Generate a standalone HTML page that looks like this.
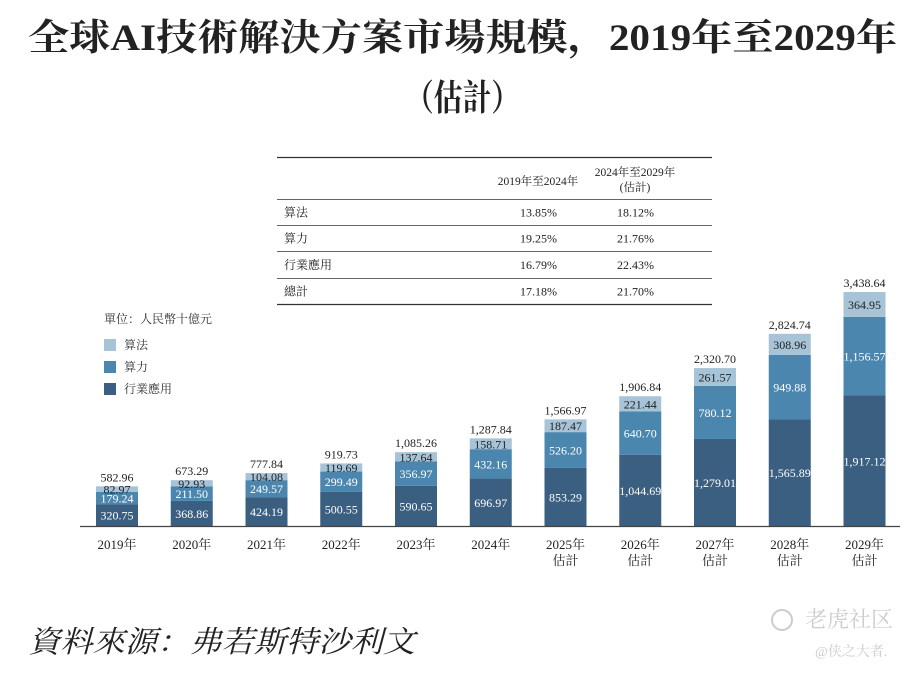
<!DOCTYPE html>
<html><head><meta charset="utf-8">
<style>
body{margin:0;background:#fff;}
svg text{font-family:"Liberation Serif","Noto Serif CJK SC","Noto Sans CJK TC",serif;}
</style></head>
<body>
<svg width="915" height="672" viewBox="0 0 915 672" xmlns="http://www.w3.org/2000/svg">
<text x="28" y="50" textLength="869" lengthAdjust="spacingAndGlyphs" font-size="37" font-weight="bold" fill="#222">全球AI技術解決方案市場規模，2019年至2029年</text>
<text x="405" y="110" textLength="115" lengthAdjust="spacingAndGlyphs" font-size="36" font-weight="bold" fill="#222">（估計）</text>
<g id="table"></g>
<g id="legend">
<text x="104" y="323" font-size="12" fill="#333">單位：人民幣十億元</text>
<rect x="104" y="339" width="12" height="12" fill="#a7c3d8"/>
<text x="124" y="349" font-size="12" fill="#333">算法</text>
<rect x="104" y="361" width="12" height="12" fill="#4b86ae"/>
<text x="124" y="371" font-size="12" fill="#333">算力</text>
<rect x="104" y="383" width="12" height="12" fill="#3a5f80"/>
<text x="124" y="393" font-size="12" fill="#333">行業應用</text>
</g>
<g id="bars"></g>
<line x1="80" y1="526.5" x2="900" y2="526.5" stroke="#444" stroke-width="1.2"/>
<text x="28" y="652" textLength="387" lengthAdjust="spacingAndGlyphs" font-size="30" font-style="italic" fill="#222">資料來源：弗若斯特沙利文</text>
<text x="805" y="627" font-size="22" fill="#ccc" font-family="Liberation Sans,Noto Sans CJK SC,sans-serif">老虎社区</text>
<circle cx="782" cy="620" r="10" fill="none" stroke="#ccc" stroke-width="2"/>
<text x="815" y="656" font-size="14" fill="#ccc">@侠之大者.</text>
</svg>
<script>
const years=["2019年","2020年","2021年","2022年","2023年","2024年","2025年","2026年","2027年","2028年","2029年"];
const estimated=[false,false,false,false,false,false,true,true,true,true,true];
const industry=[320.75,368.86,424.19,500.55,590.65,696.97,853.29,1044.69,1279.01,1565.89,1917.12];
const compute=[179.24,211.50,249.57,299.49,356.97,432.16,526.20,640.70,780.12,949.88,1156.57];
const algorithm=[82.97,92.93,104.08,119.69,137.64,158.71,187.47,221.44,261.57,308.96,364.95];
const totals=[582.96,673.29,777.84,919.73,1085.26,1287.84,1566.97,1906.84,2320.70,2824.74,3438.64];
const tableRows=["算法","算力","行業應用","總計"];
const cagr1=["13.85%","19.25%","16.79%","17.18%"];
const cagr2=["18.12%","21.76%","22.43%","21.70%"];

const NS="http://www.w3.org/2000/svg";
const base=526, scale=234/3438.64, x0=117, step=74.75, bw=42;
const yv=v=>base-v*scale;
const xc=i=>x0+i*step;
function mk(tag,attrs,parent,txt){const e=document.createElementNS(NS,tag);for(const k in attrs)e.setAttribute(k,attrs[k]);if(txt!==undefined)e.textContent=txt;parent.appendChild(e);return e;}
const g=document.getElementById('bars');
const fmt=v=>v.toLocaleString('en-US',{minimumFractionDigits:2,maximumFractionDigits:2});
years.forEach((y,i)=>{
  const segs=[[industry[i],"#3a5f80","#fff","industry"],[compute[i],"#4b86ae","#fff","compute"],[algorithm[i],"#a7c3d8","#222","algorithm"]];
  let acc=0;
  segs.forEach(s=>{
    const top=yv(acc+s[0]),bot=yv(acc);
    const r=mk('rect',{x:xc(i)-bw/2,y:top,width:bw,height:bot-top,fill:s[1]},g);
    
    
    const t=mk('text',{x:xc(i),y:(top+bot)/2+4.5,'text-anchor':'middle','font-size':12,fill:s[2]},g,fmt(s[0]));
    
    
    acc+=s[0];
  });
  const tt=mk('text',{x:xc(i),y:yv(totals[i])-5,'text-anchor':'middle','font-size':12,fill:'#222'},g,fmt(totals[i]));
  
  
  const yl=mk('text',{x:xc(i),y:549,'text-anchor':'middle','font-size':13,fill:'#222'},g,y);
  
  
  if(estimated[i]){
    const el=mk('text',{x:xc(i),y:565,'text-anchor':'middle','font-size':13,fill:'#222'},g,'估計');
    
    
  }
});
const tb=document.getElementById('table');
const lineYs=[157,199,225,251,278,304];
lineYs.forEach((ly,k)=>{
  const l=mk('line',{x1:277,x2:712,y1:ly+0.5,y2:ly+0.5,stroke:'#333','stroke-width':k==0||k==5?1.2:0.8},tb);
  
  
});
const h1=mk('text',{x:538,y:185,'text-anchor':'middle','font-size':11.5,fill:'#222'},tb,'2019年至2024年');


const h2=mk('text',{x:635,y:176,'text-anchor':'middle','font-size':11.5,fill:'#222'},tb,'2024年至2029年');


const h3=mk('text',{x:635,y:191,'text-anchor':'middle','font-size':11.5,fill:'#222'},tb,'(估計)');


tableRows.forEach((r,k)=>{
  const ty=(lineYs[k+1]+lineYs[k+2])/2+4.5;
  const a=mk('text',{x:284,y:ty,'font-size':12,fill:'#222'},tb,r);
  
  
  const b=mk('text',{x:557,y:ty,'text-anchor':'end','font-size':12,fill:'#222'},tb,cagr1[k]);
  
  
  const c=mk('text',{x:654,y:ty,'text-anchor':'end','font-size':12,fill:'#222'},tb,cagr2[k]);
  
  
});
</script>
</body></html>
